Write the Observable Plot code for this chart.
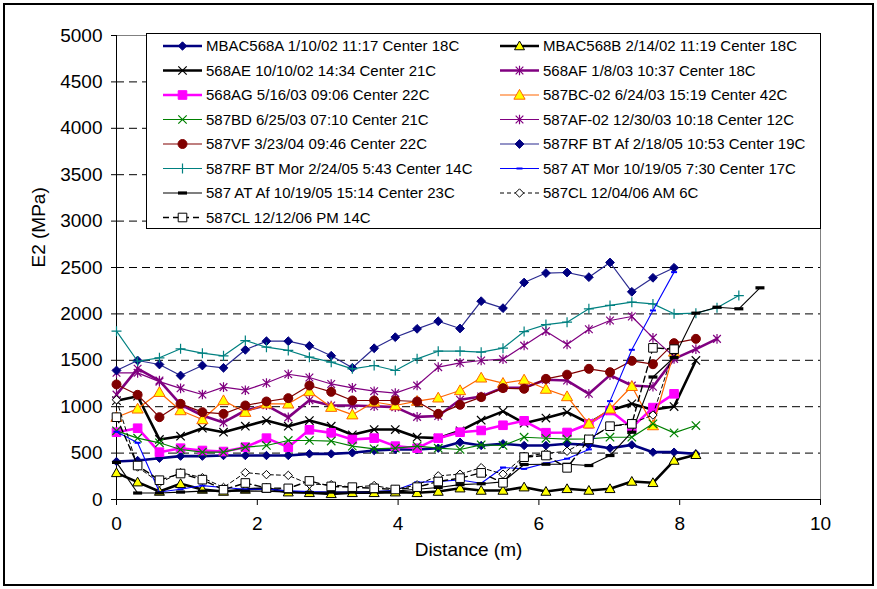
<!DOCTYPE html>
<html><head><meta charset="utf-8">
<script src="https://cdn.jsdelivr.net/npm/d3@7"></script>
<script src="https://cdn.jsdelivr.net/npm/@observablehq/plot@0.6"></script>
<style>
body{margin:0;background:#fff;}
#wrap{position:relative;width:877px;height:589px;font-family:"Liberation Sans",Arial,sans-serif;overflow:hidden;}
#border{position:absolute;left:3px;top:3px;width:867px;height:579px;border:2px solid #000;box-sizing:content-box;pointer-events:none;}
</style></head>
<body><div id="wrap"><div id="border"></div></div>
<script>
// Distance (m), 1-ft stations
const distance = [0, 0.30, 0.61, 0.91, 1.22, 1.52, 1.83, 2.13, 2.44, 2.74, 3.05, 3.35, 3.66, 3.96, 4.27, 4.57, 4.88, 5.18, 5.49, 5.79, 6.10, 6.40, 6.71, 7.01, 7.32, 7.62, 7.92, 8.23, 8.53, 8.84, 9.14];
const xTicks = [0, 2, 4, 6, 8, 10];
const yTicks = [0, 500, 1000, 1500, 2000, 2500, 3000, 3500, 4000, 4500, 5000];
const seriesNames = [
  "MBAC568A 1/10/02 11:17 Center 18C",
  "MBAC568B 2/14/02 11:19 Center 18C",
  "568AE 10/10/02 14:34 Center 21C",
  "568AF 1/8/03 10:37 Center 18C",
  "568AG 5/16/03 09:06 Center 22C",
  "587BC-02 6/24/03 15:19 Center 42C",
  "587BD 6/25/03 07:10 Center 21C",
  "587AF-02 12/30/03 10:18 Center 12C",
  "587VF 3/23/04 09:46 Center 22C",
  "587RF BT Af 2/18/05 10:53 Center 19C",
  "587RF BT Mor 2/24/05 5:43 Center 14C",
  "587 AT Mor 10/19/05 7:30 Center 17C",
  "587 AT Af 10/19/05 15:14 Center 23C",
  "587CL 12/04/06 AM 6C",
  "587CL 12/12/06 PM 14C"
];
// E2 (MPa) values, one per station
const mbac568A = [409, 420, 445, 467, 467, 474, 474, 474, 474, 492, 492, 503, 528, 539, 539, 553, 617, 582, 600, 582, 582, 600, 589, 553, 589, 510, 510, 492];
const mbac568B = [287, 187, 86, 169, 108, 86, 108, 122, 79, 72, 61, 72, 72, 79, 72, 86, 122, 97, 97, 133, 86, 115, 97, 115, 194, 180, 420, 482];
const s568AE = [1065, 1113, 647, 682, 768, 725, 790, 851, 790, 851, 790, 697, 754, 754, 671, 661, 740, 855, 950, 822, 878, 941, 822, 959, 1031, 967, 1002, 1498];
const s568AF = [1130, 1410, 1282, 1024, 905, 830, 959, 1015, 885, 1070, 1013, 1013, 1005, 995, 890, 900, 1075, 1110, 1205, 1204, 1290, 1282, 1139, 1340, 1228, 1215, 1515, 1620, 1731];
const s568AG = [725, 768, 510, 553, 528, 517, 564, 661, 564, 751, 718, 647, 661, 575, 553, 661, 725, 744, 800, 848, 720, 722, 816, 959, 775, 990, 1139];
const s587BC = [887, 977, 1156, 959, 862, 1067, 941, 1031, 1031, 1164, 995, 914, 1051, 1013, 1060, 1096, 1175, 1311, 1254, 1290, 1190, 1110, 816, 977, 1220, 797, 1590];
const s587BD = [740, 661, 611, 539, 510, 510, 564, 582, 636, 636, 630, 575, 546, 553, 575, 553, 539, 589, 582, 671, 660, 650, 654, 671, 671, 816, 718, 797];
const s587AF02 = [1365, 1365, 1270, 1198, 1131, 1211, 1178, 1255, 1350, 1315, 1245, 1203, 1167, 1146, 1228, 1426, 1473, 1498, 1512, 1659, 1814, 1670, 1835, 1929, 1972, 1742, 1540];
const s587VF = [1240, 1128, 887, 1031, 941, 923, 1013, 1056, 1092, 1228, 1160, 1067, 1067, 1067, 1056, 923, 1020, 1103, 1200, 1193, 1300, 1345, 1408, 1372, 1494, 1458, 1685, 1731];
const s587RFAf = [1390, 1498, 1455, 1336, 1444, 1419, 1613, 1706, 1706, 1656, 1549, 1419, 1630, 1749, 1839, 1921, 1843, 2137, 2062, 2338, 2440, 2446, 2396, 2554, 2238, 2389, 2497];
const s587RFMor = [1814, 1490, 1527, 1624, 1577, 1548, 1713, 1641, 1606, 1534, 1480, 1408, 1444, 1390, 1516, 1598, 1598, 1588, 1631, 1810, 1885, 1911, 2055, 2091, 2126, 2108, 2001, 2008, 2066, 2198];
const s587ATMor = [730, 611, 80, 110, 150, 130, 110, 110, 95, 85, 80, 80, 85, 100, 185, 195, 210, 175, 345, 330, 390, 440, 540, 1060, 1613, 2037, 2450];
const s587ATAf = [400, 70, 70, 80, 90, 90, 90, 90, 80, 75, 80, 80, 85, 90, 110, 130, 160, 170, 190, 377, 380, 380, 366, 474, 725, 1320, 1530, 2008, 2072, 2055, 2281];
const s587CLAM = [1074, 350, 180, 290, 235, 130, 290, 268, 260, 165, 160, 133, 151, 108, 158, 255, 273, 343, 273, 465, 497, 520, 650, 790, 822, 910, 1620];
const s587CLPM = [887, 366, 208, 280, 214, 105, 178, 124, 120, 200, 141, 133, 120, 108, 133, 194, 230, 287, 180, 456, 474, 341, 648, 790, 815, 1634, 1620];
const seriesValues = [mbac568A, mbac568B, s568AE, s568AF, s568AG, s587BC, s587BD, s587AF02, s587VF, s587RFAf, s587RFMor, s587ATMor, s587ATAf, s587CLAM, s587CLPM];

// ---- custom marker shapes ----
const symAsterisk = {draw(ctx, size){ const r = Math.sqrt(size/Math.PI); const a = r*0.8; ctx.moveTo(-a,-a); ctx.lineTo(a,a); ctx.moveTo(a,-a); ctx.lineTo(-a,a); ctx.moveTo(0,-r); ctx.lineTo(0,r);} };
const symX = {draw(ctx, size){ const r = Math.sqrt(size/Math.PI); ctx.moveTo(-r,-r); ctx.lineTo(r,r); ctx.moveTo(r,-r); ctx.lineTo(-r,r);} };
const symPlus = {draw(ctx, size){ const r = Math.sqrt(size/Math.PI); ctx.moveTo(-r,0); ctx.lineTo(r,0); ctx.moveTo(0,-r); ctx.lineTo(0,r);} };
const symDiamond = {draw(ctx, size){ const r = Math.sqrt(size/Math.PI); ctx.moveTo(0,-r); ctx.lineTo(r,0); ctx.lineTo(0,r); ctx.lineTo(-r,0); ctx.closePath();} };
const symSquare = {draw(ctx, size){ const r = Math.sqrt(size/Math.PI); ctx.rect(-r,-r,2*r,2*r);} };
const symTriangle = {draw(ctx, size){ const r = Math.sqrt(size/Math.PI); ctx.moveTo(0,-r); ctx.lineTo(r,r*0.75); ctx.lineTo(-r,r*0.75); ctx.closePath();} };
const symCircle = {draw(ctx, size){ const r = Math.sqrt(size/Math.PI); ctx.moveTo(r,0); ctx.arc(0,0,r,0,2*Math.PI);} };
const symDashSmall = {draw(ctx, size){ ctx.rect(-3,-1,6,2);} };
const symDashBig = {draw(ctx, size){ ctx.rect(-4.5,-1.6,9,3.2);} };

const styles = [
  {line:"#000080", lw:2.6, sym:symDiamond, r:4.2, fill:"#000080", stroke:"#000080", sw:1},
  {line:"#000000", lw:2.6, sym:symTriangle, r:5, fill:"#ffff00", stroke:"#000000", sw:1},
  {line:"#000000", lw:2.6, sym:symX, r:4.2, fill:"none", stroke:"#000000", sw:1.2},
  {line:"#800080", lw:2.6, sym:symAsterisk, r:4.8, fill:"none", stroke:"#800080", sw:1.2},
  {line:"#ff00ff", lw:2.6, sym:symSquare, r:4.3, fill:"#ff00ff", stroke:"#ff00ff", sw:1},
  {line:"#ff6600", lw:1.2, sym:symTriangle, r:5.6, fill:"#ffff00", stroke:"#ff6600", sw:1},
  {line:"#008000", lw:1.2, sym:symX, r:4.2, fill:"none", stroke:"#008000", sw:1.2},
  {line:"#800080", lw:1.2, sym:symAsterisk, r:4.8, fill:"none", stroke:"#800080", sw:1.2},
  {line:"#800000", lw:1.2, sym:symCircle, r:4.5, fill:"#800000", stroke:"#800000", sw:1},
  {line:"#2a2a90", lw:1.2, sym:symDiamond, r:4.4, fill:"#000080", stroke:"#000080", sw:1},
  {line:"#008080", lw:1.2, sym:symPlus, r:5, fill:"none", stroke:"#008080", sw:1.2},
  {line:"#0000ff", lw:1.1, sym:symDashSmall, r:3, fill:"#0000ff", stroke:"none", sw:0},
  {line:"#000000", lw:1.1, sym:symDashBig, r:3, fill:"#000000", stroke:"none", sw:0},
  {line:"#000000", lw:1, dash:"4,3", sym:symDiamond, r:4.2, fill:"#ffffff", stroke:"#000000", sw:1},
  {line:"#000000", lw:1.4, dash:"6,4", sym:symSquare, r:4.3, fill:"#ffffff", stroke:"#000000", sw:1}
];

const seriesData = seriesValues.map((vals, i) => vals.map((v, k) => ({x: distance[k], y: v, s: seriesNames[i]})));

const marks = [
  Plot.ruleY(yTicks.filter(v => v > 0 && v < 5000), {stroke: "#000", strokeDasharray: "8,5", strokeWidth: 1}),
  Plot.ruleY([5000], {stroke: "#808080", strokeWidth: 1}),
  Plot.ruleX([10], {stroke: "#808080", strokeWidth: 1}),
  Plot.ruleX([0], {stroke: "#000", strokeWidth: 1}),
  Plot.ruleY([0], {stroke: "#000", strokeWidth: 1})
];
seriesData.forEach((d, i) => {
  const st = styles[i];
  marks.push(Plot.line(d, {x: "x", y: "y", stroke: st.line, strokeWidth: st.lw, strokeDasharray: st.dash, curve: "linear"}));
  marks.push(Plot.dot(d, {x: "x", y: "y", symbol: st.sym, r: st.r, fill: st.fill, stroke: st.stroke, strokeWidth: st.sw}));
});
marks.push(Plot.text(["E2 (MPa)"], {frameAnchor: "left", dx: -78, rotate: -90, fontSize: 19, fill: "#000"}));
marks.push(Plot.text(["Distance (m)"], {frameAnchor: "bottom", dy: 56, fontSize: 19, fill: "#000"}));

const chart = Plot.plot({
  width: 877, height: 589,
  marginLeft: 116, marginRight: 57, marginTop: 35, marginBottom: 90,
  style: {fontFamily: "Liberation Sans, Arial, sans-serif", fontSize: "19px", background: "transparent", color: "#000", overflow: "visible"},
  x: {domain: [0, 10], ticks: xTicks, tickSize: 6, tickPadding: 11, tickFormat: d => String(d), label: null},
  y: {domain: [0, 5000], ticks: yTicks, tickSize: 5, tickPadding: 9, tickFormat: d => String(d), label: null},
  marks
});
chart.style.position = "absolute"; chart.style.left = "0px"; chart.style.top = "0px";
const wrap = document.getElementById("wrap");
wrap.insertBefore(chart, wrap.firstChild);

// ---- legend (inside plot area, top) ----
const lg = d3.select(wrap).append("svg").attr("width", 877).attr("height", 589)
  .style("position", "absolute").style("left", "0px").style("top", "0px");
lg.append("rect").attr("x", 146.5).attr("y", 33.5).attr("width", 674).attr("height", 195)
  .attr("fill", "#fff").attr("stroke", "#000").attr("stroke-width", 1);
seriesNames.forEach((name, i) => {
  const st = styles[i];
  const col = i % 2, row = Math.floor(i / 2);
  const cy = 46 + row * 24.5;
  const x0 = col ? 500 : 163, x1 = x0 + 39, xm = (x0 + x1) / 2;
  lg.append("line").attr("x1", x0).attr("x2", x1).attr("y1", cy).attr("y2", cy)
    .attr("stroke", st.line).attr("stroke-width", st.lw).attr("stroke-dasharray", st.dash || null);
  lg.append("path").attr("transform", `translate(${xm},${cy})`)
    .attr("d", d3.symbol().type(st.sym).size(Math.PI * st.r * st.r)())
    .attr("fill", st.fill).attr("stroke", st.stroke).attr("stroke-width", st.sw);
  lg.append("text").attr("x", x1 + 4).attr("y", cy).attr("dy", "0.36em")
    .attr("font-family", "Liberation Sans, Arial, sans-serif").attr("font-size", 15).attr("fill", "#000")
    .text(name);
});
</script>
</body></html>
